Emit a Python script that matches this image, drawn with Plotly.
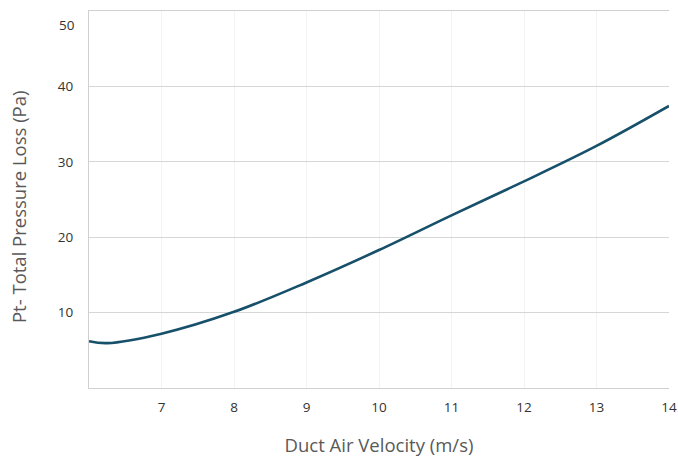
import plotly.graph_objects as go

velocity = [6.0, 6.25, 7.0, 8.0, 9.0, 10.0, 11.0, 12.0, 13.0, 14.0]
pressure_loss = [6.2, 5.95, 7.2, 10.1, 14.0, 18.3, 22.9, 27.4, 32.1, 37.4]
x_ticks = [7, 8, 9, 10, 11, 12, 13, 14]
y_ticks = [10, 20, 30, 40]

fig = go.Figure()
fig.add_trace(go.Scatter(
    x=velocity, y=pressure_loss, mode="lines",
    line=dict(color="#17506a", width=2.6, shape="spline", smoothing=1.0),
    hoverinfo="skip", showlegend=False,
))

font_family = "Open Sans, Liberation Sans, sans-serif"
fig.update_layout(
    width=678, height=459,
    margin=dict(l=89, r=9, t=11, b=71, autoexpand=False),
    paper_bgcolor="white", plot_bgcolor="white",
    font=dict(family=font_family, color="#404040"),
    xaxis=dict(
        range=[6, 14], tickvals=x_ticks, showgrid=True, gridcolor="#f3f3f3", gridwidth=1,
        showline=True, linecolor="#d0d0d0", linewidth=1.3, mirror=True,
        ticks="", tickfont=dict(size=13.5, color="#333333"), ticklabelstandoff=7,
        title=dict(text="Duct Air Velocity (m/s)", font=dict(size=18.5, color="#595959"), standoff=23),
        zeroline=False, automargin=False,
    ),
    yaxis=dict(
        range=[0, 50], tickvals=y_ticks, showgrid=True, gridcolor="#d6d6d6", gridwidth=1.3,
        showline=True, linecolor="#d0d0d0", linewidth=1.3,
        ticks="", tickfont=dict(size=13.5, color="#333333"), ticklabelstandoff=12,
        zeroline=False, automargin=False,
    ),
)
fig.add_annotation(
    text="50", xref="paper", yref="y", x=0, y=48.1, xanchor="right", yanchor="middle",
    xshift=-12, showarrow=False, font=dict(size=13.5, color="#333333", family=font_family),
)
fig.add_annotation(
    text="Pt- Total Pressure Loss (Pa)", xref="paper", yref="paper", x=0, y=0.48,
    xanchor="center", yanchor="middle", xshift=-71, textangle=-90, showarrow=False,
    font=dict(size=18.5, color="#595959", family=font_family),
)

fig.write_html(
    "out.html",
    config={"displayModeBar": False},
    post_script="document.body.style.margin='0';document.body.style.overflow='hidden';",
)
